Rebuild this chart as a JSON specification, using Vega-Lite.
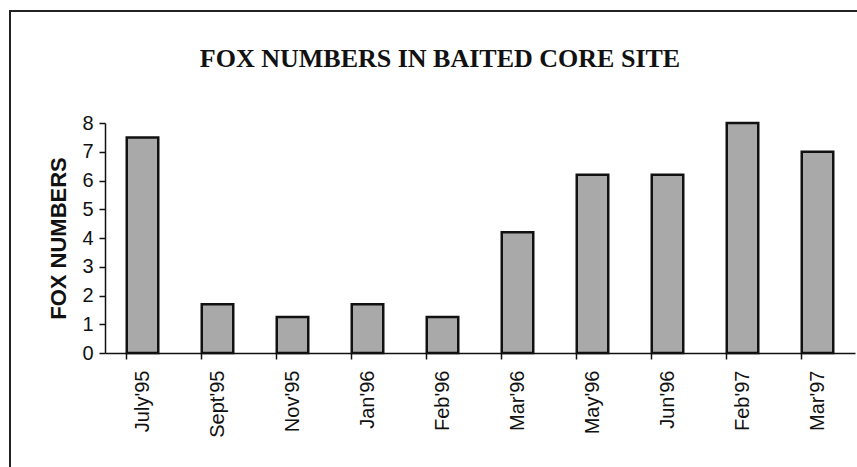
{
  "$schema": "https://vega.github.io/schema/vega-lite/v6.json",
  "autosize": "none",
  "padding": {"left": 10, "top": 11, "right": 0, "bottom": 0},
  "width": 860,
  "height": 470,
  "background": "white",
  "title": {
    "text": "FOX NUMBERS IN BAITED CORE SITE",
    "font": "Liberation Serif",
    "fontSize": 26,
    "fontWeight": "bold",
    "color": "#111",
    "anchor": "middle",
    "orient": "top",
    "baseline": "alphabetic",
    "offset": -82
  },
  "config": {
    "view": {"stroke": "#222", "strokeWidth": 2},
    "axis": {"grid": false}
  },
  "data": {
    "values": [
      {"month": "July'95", "foxes": 7.5},
      {"month": "Sept'95", "foxes": 1.7},
      {"month": "Nov'95", "foxes": 1.25},
      {"month": "Jan'96", "foxes": 1.7},
      {"month": "Feb'96", "foxes": 1.25},
      {"month": "Mar'96", "foxes": 4.2},
      {"month": "May'96", "foxes": 6.2},
      {"month": "Jun'96", "foxes": 6.2},
      {"month": "Feb'97", "foxes": 8},
      {"month": "Mar'97", "foxes": 7}
    ]
  },
  "mark": {"type": "bar", "fill": "#a9a9a9", "stroke": "#111", "strokeWidth": 2.5},
  "encoding": {
    "x": {
      "field": "month",
      "type": "nominal",
      "sort": null,
      "scale": {"range": [95, 845], "paddingInner": 0.58, "paddingOuter": 0.29},
      "axis": {
        "title": null,
        "offset": -128,
        "bandPosition": 0,
        "labelAngle": -90,
        "labelAlign": "right",
        "labelBaseline": "middle",
        "labelFont": "Liberation Sans",
        "labelFontSize": 20,
        "labelColor": "#111",
        "labelPadding": 11,
        "tickSize": 6,
        "tickColor": "#111",
        "domainColor": "#111",
        "domainWidth": 1.5,
        "tickWidth": 1.5
      }
    },
    "y": {
      "field": "foxes",
      "type": "quantitative",
      "scale": {"domain": [0, 8], "range": [342, 112], "nice": false},
      "axis": {
        "title": "FOX NUMBERS",
        "titleFont": "Liberation Sans",
        "titleFontSize": 22,
        "titleFontWeight": "bold",
        "titleColor": "#111",
        "titlePadding": 11,
        "offset": -95,
        "values": [0, 1, 2, 3, 4, 5, 6, 7, 8],
        "labelFont": "Liberation Sans",
        "labelFontSize": 20,
        "labelColor": "#111",
        "labelPadding": 6,
        "tickSize": 6,
        "tickColor": "#111",
        "domainColor": "#111",
        "domainWidth": 1.5,
        "tickWidth": 1.5
      }
    }
  }
}
